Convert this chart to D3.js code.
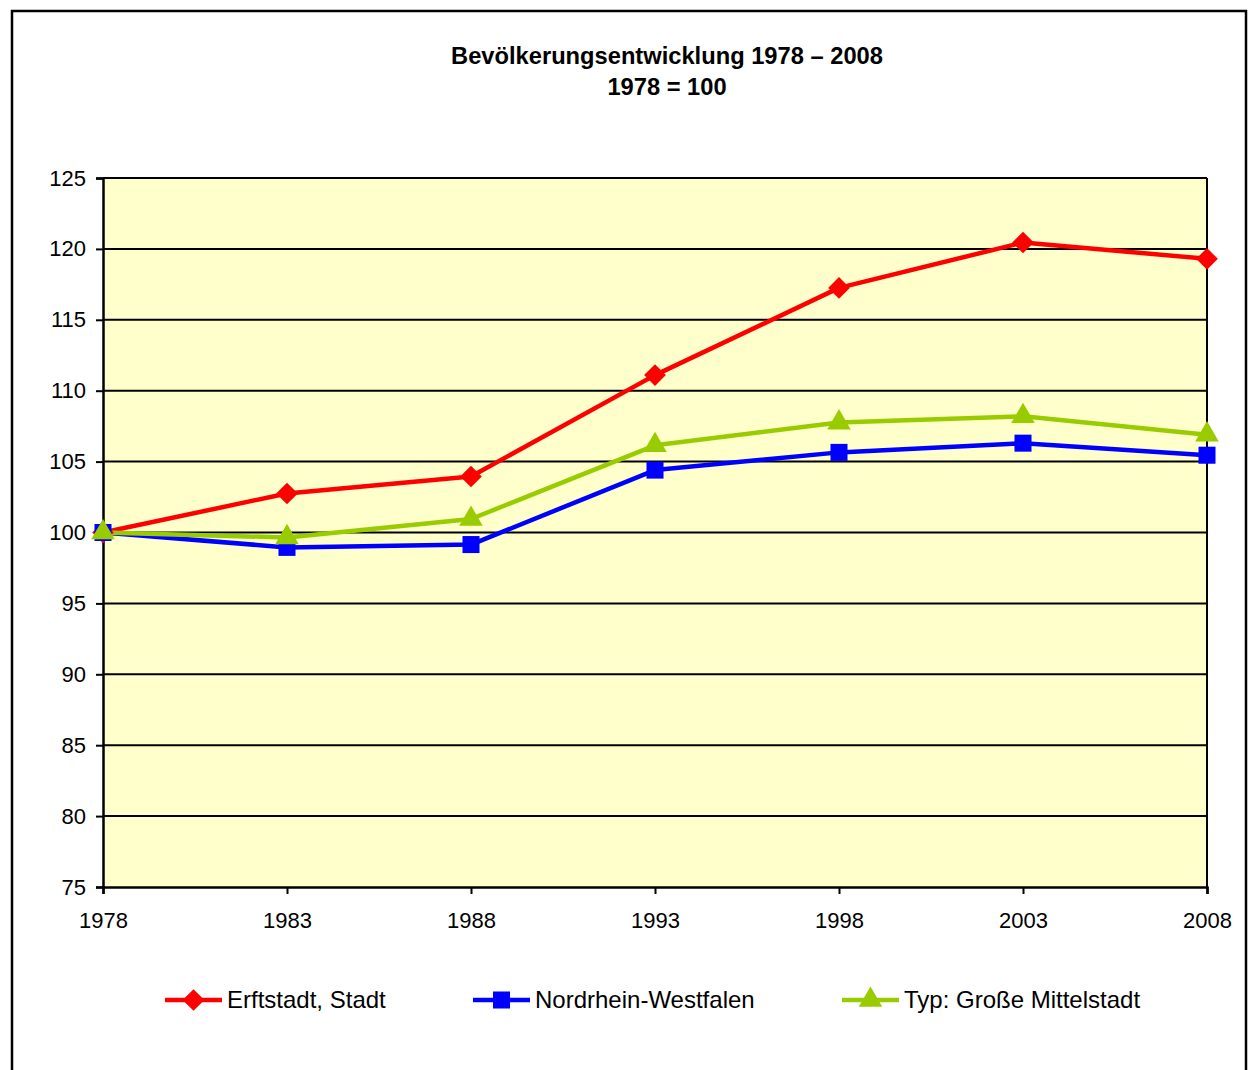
<!DOCTYPE html>
<html>
<head>
<meta charset="utf-8">
<script src="https://cdn.jsdelivr.net/npm/d3@7"></script>
<style>
  body { margin: 0; background: #fff; }
  text { font-family: "Liberation Sans", Arial, sans-serif; }
</style>
</head>
<body>
<div id="chart"></div>
<script>
// data
var years = [1978, 1983, 1988, 1993, 1998, 2003, 2008];
var erftstadt = [100, 102.75, 103.95, 111.1, 117.25, 120.45, 119.3];
var nrw = [100, 98.95, 99.15, 104.4, 105.65, 106.3, 105.45];
var mittelstadt = [100, 99.65, 100.95, 106.15, 107.75, 108.2, 106.9];
var yTicks = [75, 80, 85, 90, 95, 100, 105, 110, 115, 120, 125];
var seriesNames = ["Erftstadt, Stadt", "Nordrhein-Westfalen", "Typ: Große Mittelstadt"];
var seriesColors = ["#ff0000", "#0000ff", "#99cc00"];
var seriesSymbols = [d3.symbolDiamond2, d3.symbolSquare, d3.symbolTriangle];

var width = 1249, height = 1070;
var startX = 103, endX = 1207, startY = 178, endY = 887;

var svg = d3.select("#chart").append("svg").attr("width", width).attr("height", height);

// outer frame
svg.append("rect").attr("x", 12).attr("y", 11).attr("width", 1234).attr("height", 1070)
  .attr("fill", "#fff").attr("stroke", "#000").attr("stroke-width", 2.5);

var xScale = d3.scalePoint().domain(years).range([startX, endX]);
var yScale = d3.scaleLinear().domain([75, 125]).range([endY, startY]);

// plot background
svg.append("rect").attr("x", startX).attr("y", startY).attr("width", endX - startX).attr("height", endY - startY)
  .attr("fill", "#ffffcc");

// gridlines
svg.selectAll(".grid").data(yTicks.slice(1)).enter().append("line")
  .attr("x1", startX).attr("x2", endX)
  .attr("y1", function(d){ return yScale(d); }).attr("y2", function(d){ return yScale(d); })
  .attr("stroke", "#000").attr("stroke-width", 2);

// right border of plot
svg.append("line").attr("x1", endX).attr("x2", endX).attr("y1", startY).attr("y2", endY)
  .attr("stroke", "#000").attr("stroke-width", 2);

// axes
var yAxis = svg.append("g").attr("transform", "translate(" + startX + ",0)")
  .call(d3.axisLeft(yScale).tickValues(yTicks).tickSize(7).tickPadding(10));
var xAxis = svg.append("g").attr("transform", "translate(0," + endY + ")")
  .call(d3.axisBottom(xScale).tickSize(7).tickPadding(18));
[yAxis, xAxis].forEach(function(ax){
  ax.select(".domain").attr("stroke", "#000").attr("stroke-width", 2.5);
  ax.selectAll(".tick line").attr("stroke", "#000").attr("stroke-width", 2);
  ax.selectAll(".tick text").attr("font-size", 22).attr("fill", "#000")
    .attr("font-family", "'Liberation Sans', Arial, sans-serif");
});

// title
svg.append("text").text("Bevölkerungsentwicklung 1978 – 2008").attr("x", 667).attr("y", 64)
  .attr("text-anchor", "middle").attr("font-size", 23.7).attr("font-weight", "bold");
svg.append("text").text("1978 = 100").attr("x", 667).attr("y", 95)
  .attr("text-anchor", "middle").attr("font-size", 23.7).attr("font-weight", "bold");

// series lines
var allSeries = [erftstadt, nrw, mittelstadt];
var line = d3.line().x(function(d, i){ return xScale(years[i]); }).y(function(d){ return yScale(d); });
var symbolSizes = [300, 290, 240];

allSeries.forEach(function(values, s){
  svg.append("path").datum(values).attr("d", line).attr("fill", "none")
    .attr("stroke", seriesColors[s]).attr("stroke-width", 4.5).attr("stroke-linejoin", "round");
});
allSeries.forEach(function(values, s){
  svg.selectAll(".m" + s).data(values).enter().append("path")
    .attr("d", d3.symbol().type(seriesSymbols[s]).size(symbolSizes[s]))
    .attr("transform", function(d, i){ return "translate(" + xScale(years[i]) + "," + yScale(d) + ")"; })
    .attr("fill", seriesColors[s]);
});

// legend
var legendX = [165, 473, 842];
var legendY = 1000;
seriesNames.forEach(function(name, s){
  var g = svg.append("g").attr("transform", "translate(" + legendX[s] + "," + legendY + ")");
  g.append("line").attr("x1", 0).attr("x2", 57).attr("y1", 0).attr("y2", 0)
    .attr("stroke", seriesColors[s]).attr("stroke-width", 4.5);
  g.append("path").attr("d", d3.symbol().type(seriesSymbols[s]).size(symbolSizes[s]))
    .attr("transform", "translate(28.5,0)").attr("fill", seriesColors[s]);
  g.append("text").text(name).attr("x", 62).attr("y", 8).attr("font-size", 24);
});
</script>
</body>
</html>
